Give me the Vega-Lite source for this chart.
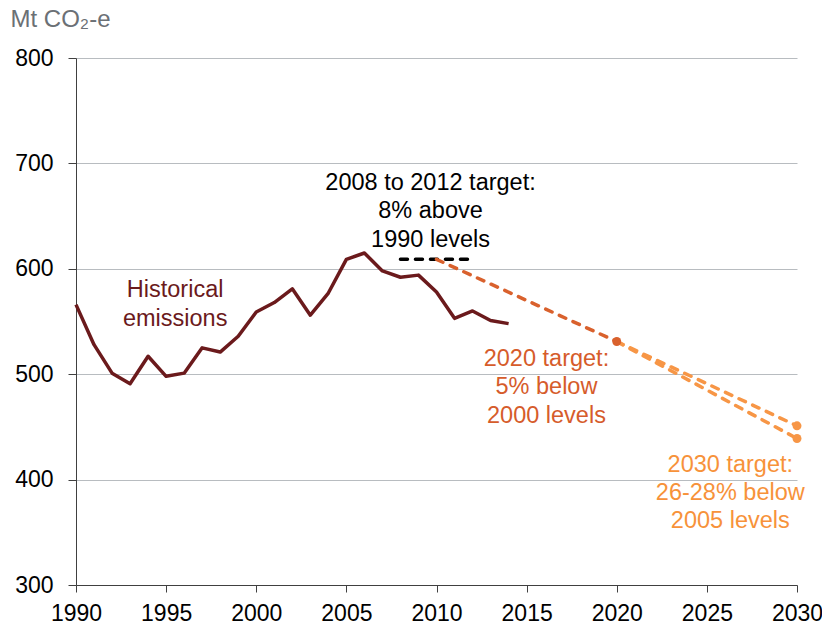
{
  "$schema": "https://vega.github.io/schema/vega-lite/v6.json",
  "autosize": "none",
  "width": 721,
  "height": 527,
  "padding": {"left": 76, "top": 58, "right": 25, "bottom": 40},
  "background": "white",
  "config": {
    "font": "Liberation Sans",
    "view": {"stroke": null},
    "axis": {"labelFont": "Liberation Sans", "titleFont": "Liberation Sans"}
  },
  "datasets": {
    "emissions": [
      {"series": "Historical", "year": 1990, "value": 566},
      {"series": "Historical", "year": 1991, "value": 528},
      {"series": "Historical", "year": 1992, "value": 501},
      {"series": "Historical", "year": 1993, "value": 491},
      {"series": "Historical", "year": 1994, "value": 517},
      {"series": "Historical", "year": 1995, "value": 498},
      {"series": "Historical", "year": 1996, "value": 501},
      {"series": "Historical", "year": 1997, "value": 525},
      {"series": "Historical", "year": 1998, "value": 521},
      {"series": "Historical", "year": 1999, "value": 536},
      {"series": "Historical", "year": 2000, "value": 559},
      {"series": "Historical", "year": 2001, "value": 568},
      {"series": "Historical", "year": 2002, "value": 581},
      {"series": "Historical", "year": 2003, "value": 556},
      {"series": "Historical", "year": 2004, "value": 577},
      {"series": "Historical", "year": 2005, "value": 609},
      {"series": "Historical", "year": 2006, "value": 615},
      {"series": "Historical", "year": 2007, "value": 598},
      {"series": "Historical", "year": 2008, "value": 592},
      {"series": "Historical", "year": 2009, "value": 594},
      {"series": "Historical", "year": 2010, "value": 578},
      {"series": "Historical", "year": 2011, "value": 553},
      {"series": "Historical", "year": 2012, "value": 560},
      {"series": "Historical", "year": 2013, "value": 551},
      {"series": "Historical", "year": 2014, "value": 548}
    ],
    "targets": [
      {"series": "2008-2012 target", "year": 2008, "value": 609},
      {"series": "2008-2012 target", "year": 2012, "value": 609},
      {"series": "2020 target", "year": 2010, "value": 609},
      {"series": "2020 target", "year": 2020, "value": 531},
      {"series": "2030 target 26%", "year": 2020, "value": 531},
      {"series": "2030 target 26%", "year": 2030, "value": 451},
      {"series": "2030 target 28%", "year": 2020, "value": 531},
      {"series": "2030 target 28%", "year": 2030, "value": 439}
    ]
  },
  "layer": [
    {
      "data": {"name": "emissions"},
      "mark": {"type": "line", "color": "#6b1a1c", "strokeWidth": 3.5, "strokeJoin": "round"},
      "encoding": {
        "x": {
          "field": "year", "type": "quantitative",
          "scale": {"domain": [1990, 2030], "nice": false, "zero": false},
          "axis": {
            "values": [1990, 1995, 2000, 2005, 2010, 2015, 2020, 2025, 2030],
            "format": "d", "title": null, "grid": false,
            "labelFontSize": 23, "labelColor": "#000000", "labelPadding": 10,
            "tickSize": 7, "tickColor": "#404040", "domainColor": "#404040",
            "labelFlush": false, "labelOverlap": false
          }
        },
        "y": {
          "field": "value", "type": "quantitative",
          "scale": {"domain": [300, 800], "nice": false, "zero": false},
          "axis": {
            "values": [300, 400, 500, 600, 700, 800],
            "title": "Mt  CO₂-e", "titleAngle": 0, "titleAlign": "left",
            "titleBaseline": "alphabetic", "titleX": -66, "titleY": -32,
            "titleFontSize": 24, "titleFontWeight": "normal", "titleColor": "#6b7075",
            "grid": true, "gridColor": "#b8bcc0", "gridWidth": 1,
            "labelFontSize": 23, "labelColor": "#000000", "labelPadding": 15,
            "tickSize": 8, "tickColor": "#404040", "domainColor": "#404040"
          }
        }
      }
    },
    {
      "data": {"name": "targets"},
      "mark": {"type": "line", "strokeWidth": 3.5, "strokeDash": [7, 8], "strokeCap": "round"},
      "encoding": {
        "x": {"field": "year", "type": "quantitative"},
        "y": {"field": "value", "type": "quantitative"},
        "detail": {"field": "series"},
        "color": {
          "field": "series", "type": "nominal", "legend": null,
          "scale": {
            "domain": ["2008-2012 target", "2020 target", "2030 target 26%", "2030 target 28%"],
            "range": ["#000000", "#d9612d", "#f79646", "#f79646"]
          }
        }
      }
    },
    {
      "data": {"name": "targets"},
      "transform": [{"filter": "datum.series != '2008-2012 target' && datum.year >= 2020 && !(datum.series != '2020 target' && datum.year == 2020)"}],
      "mark": {"type": "point", "filled": true, "opacity": 1, "size": 80},
      "encoding": {
        "x": {"field": "year", "type": "quantitative"},
        "y": {"field": "value", "type": "quantitative"},
        "color": {"field": "series", "type": "nominal", "legend": null}
      }
    },
    {
      "data": {"values": [{}]},
      "mark": {"type": "text", "text": ["Historical", "emissions"], "align": "center", "baseline": "alphabetic", "fontSize": 23.5, "lineHeight": 29, "color": "#6b1a1c"},
      "encoding": {"x": {"datum": 1995.5}, "y": {"datum": 573}}
    },
    {
      "data": {"values": [{}]},
      "mark": {"type": "text", "text": ["2008 to 2012 target:", "8% above", "1990 levels"], "align": "center", "baseline": "alphabetic", "fontSize": 23.5, "lineHeight": 28.5, "color": "#000000"},
      "encoding": {"x": {"datum": 2009.67}, "y": {"datum": 675}}
    },
    {
      "data": {"values": [{}]},
      "mark": {"type": "text", "text": ["2020 target:", "5% below", "2000 levels"], "align": "center", "baseline": "alphabetic", "fontSize": 23.5, "lineHeight": 28.5, "color": "#d65c2b"},
      "encoding": {"x": {"datum": 2016.1}, "y": {"datum": 508}}
    },
    {
      "data": {"values": [{}]},
      "mark": {"type": "text", "text": ["2030 target:", "26-28% below", "2005 levels"], "align": "center", "baseline": "alphabetic", "fontSize": 23.5, "lineHeight": 28, "color": "#f7923a"},
      "encoding": {"x": {"datum": 2026.3}, "y": {"datum": 407.5}}
    }
  ]
}
